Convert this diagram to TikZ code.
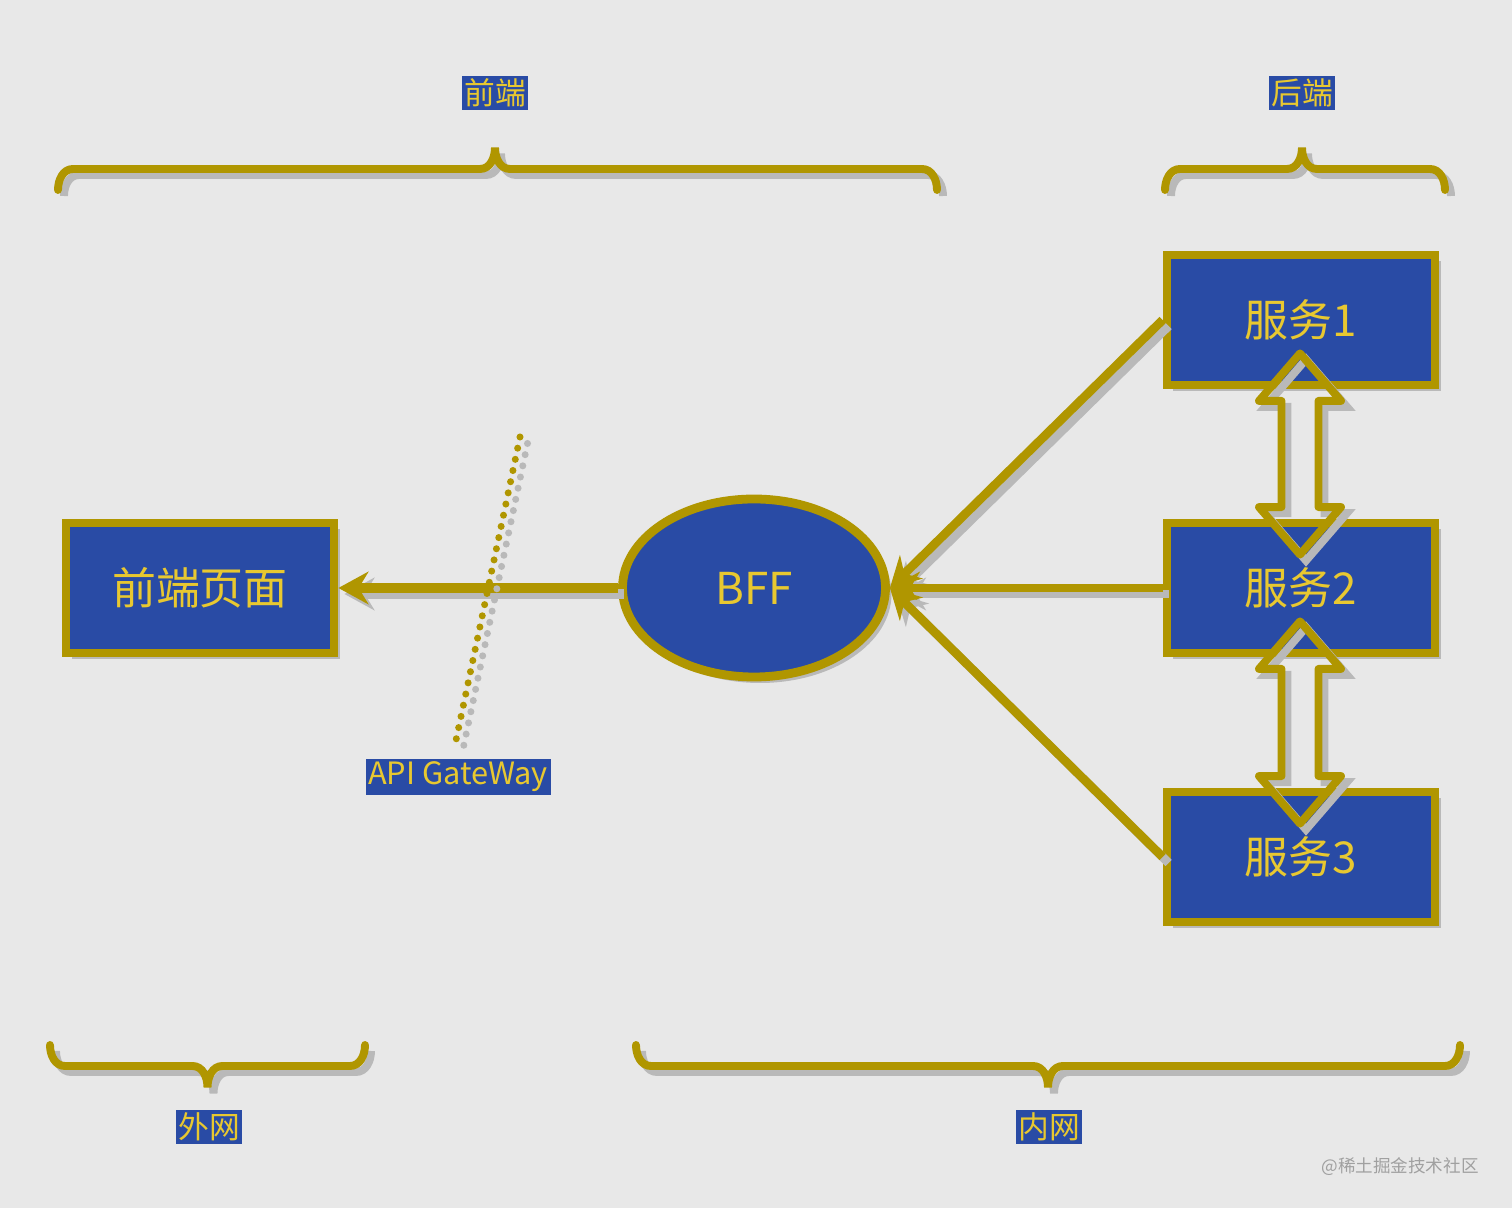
\documentclass[tikz,border=0pt]{standalone}
\usepackage{fontspec}
\setmainfont{Noto Sans CJK SC}
\usetikzlibrary{arrows.meta, positioning, shapes.geometric, calc, shadows}
\definecolor{bffbg}{RGB}{232, 232, 232}
\definecolor{bffblue}{RGB}{41, 75, 165}
\definecolor{bffgold}{RGB}{176, 150, 0}
\definecolor{bffyellow}{RGB}{232, 200, 48}
\definecolor{bffshadow}{RGB}{185, 185, 185}
\definecolor{bffmark}{RGB}{160, 160, 160}

\begin{document}
\begin{tikzpicture}[
    shd/.style={drop shadow={shadow xshift=0.12cm, shadow yshift=-0.12cm, fill=bffshadow, opacity=1}},
    lshd/.style={preaction={draw=bffshadow, line width=#1, transform canvas={shift={(0.12,-0.12)}}}},
    svc/.style={rectangle, draw=bffgold, line width=5pt, fill=bffblue, minimum width=5.36cm, minimum height=2.6cm, text=bffyellow, font=\fontsize{25}{30}\selectfont, shd},
    hub/.style={ellipse, draw=bffgold, line width=5pt, fill=bffblue, minimum width=5.26cm, minimum height=3.56cm, text=bffyellow, font=\fontsize{25}{30}\selectfont, shd},
    tag/.style={rectangle, fill=bffblue, text=bffyellow, inner sep=1.5pt, font=\fontsize{17.5}{21}\selectfont},
    lnk/.style={line width=#1, draw=bffgold, -{Stealth[length=0.6cm, width=0.65cm]}, lshd=#1},
    dbl/.style={draw=bffgold, line width=4.5pt, line join=round, lshd=4.5pt},
    brc/.style={line width=4.5pt, draw=bffgold, line cap=round, lshd=4.5pt},
    dots/.style={line width=4pt, line cap=round, dash pattern=on 0pt off 6.5pt}
]
% background
\fill[bffbg] (0,0) rectangle (30.24,24.16);

% boxes
\node[svc] (page) at (4.0, 12.4) {前端页面};
\node[hub] (bff) at (15.08, 12.4) {BFF};
\node[svc] (s1) at (26.02, 17.76) {服务1};
\node[svc] (s2) at (26.02, 12.4) {服务2};
\node[svc] (s3) at (26.02, 7.02) {服务3};

% links
\draw[lnk=6pt] (bff.west) -- (page.east);
\foreach \n in {s1,s2,s3} {
    \draw[lnk=5pt] (\n.west) -- (bff.east);
}

% service to service (hollow double arrows)
\foreach \a/\b in {s1/s2, s2/s3} {
    \path ($(\a.south)+(-0.02,0.72)$) coordinate (\a-tip) ($(\b.north)+(-0.02,-0.72)$) coordinate (\b-tap);
    \draw[dbl] (\a-tip) -- ++(0.82,-0.95) -- ++(-0.45,0) -- ($(\b-tap)+(0.37,0.95)$) -- ++(0.45,0) -- (\b-tap)
        -- ++(-0.82,0.95) -- ++(0.45,0) -- ($(\a-tip)+(-0.37,-0.95)$) -- ++(-0.45,0) -- cycle;
}

% gateway
\coordinate (gwtop) at (10.4, 15.42);
\coordinate (gwbot) at (9.1, 9.26);
\draw[dots, bffshadow, transform canvas={shift={(0.15,-0.13)}}] (gwtop) -- (gwbot);
\draw[dots, bffgold] (gwtop) -- (gwbot);
\node[tag] (gw) at (9.16, 8.62) {API GateWay};

% braces
\foreach \xa/\xm/\xb/\ya/\s in {1.16/9.9/18.74/20.36/1, 23.3/26.04/28.9/20.36/1, 1.0/4.15/7.3/3.26/-1, 12.72/20.96/29.2/3.26/-1} {
    \pgfmathsetmacro{\up}{90*\s}
    \pgfmathsetmacro{\dn}{-90*\s}
    \draw[brc] (\xa,\ya) to[out=\up, in=180] ({\xa+0.3},{\ya+0.42*\s}) -- ({\xm-0.3},{\ya+0.42*\s})
        to[out=0, in=\dn] (\xm,{\ya+0.85*\s}) to[out=\dn, in=180] ({\xm+0.3},{\ya+0.42*\s})
        -- ({\xb-0.3},{\ya+0.42*\s}) to[out=0, in=\up] (\xb,\ya);
}
\node[tag] (fe) at (9.9, 22.3) {前端};
\node[tag] (be) at (26.04, 22.3) {后端};
\node[tag] (wan) at (4.18, 1.62) {外网};
\node[tag] (lan) at (20.98, 1.62) {内网};

\node[bffmark, font=\fontsize{10}{12}\selectfont] (mark) at (28.0, 0.82) {@稀土掘金技术社区};
\end{tikzpicture}
\end{document}
